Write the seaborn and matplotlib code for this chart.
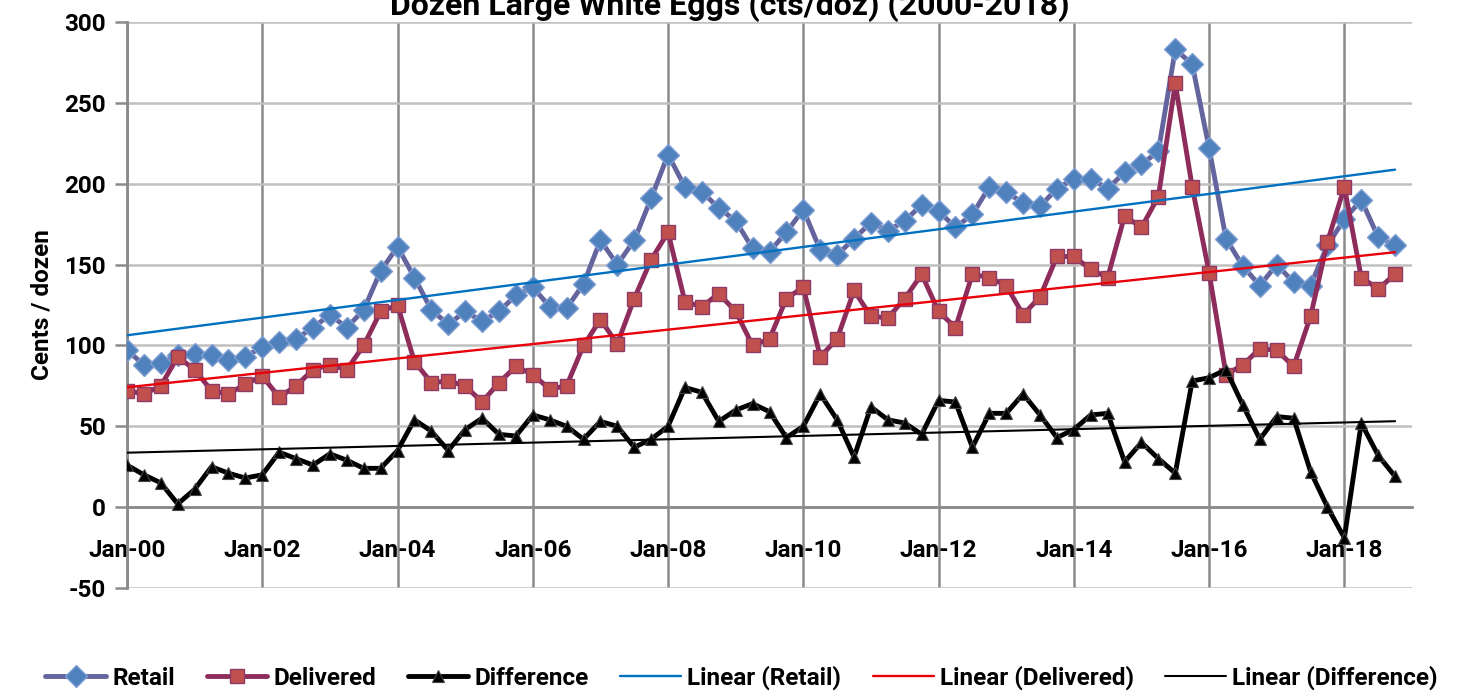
import numpy as np
import pandas as pd
import seaborn as sns
import matplotlib.pyplot as plt
import matplotlib.font_manager as fm

# Quarterly prices, Jan-2000 .. Oct-2018 (cents per dozen)
start_year = 2000
retail = [97, 88, 89, 94, 95, 94, 91, 93, 99, 102, 104, 111, 119, 111, 122, 146,
          161, 142, 122, 113, 121, 115, 121, 131, 136, 124, 123, 138, 165, 150, 165, 191,
          218, 198, 195, 185, 177, 160, 158, 170, 184, 159, 156, 166, 176, 171, 177, 187,
          183, 173, 181, 198, 195, 188, 186, 197, 203, 203, 197, 207, 212, 220, 283, 274,
          222, 166, 149, 137, 150, 139, 137, 162, 178, 190, 167, 162]
delivered = [72, 70, 75, 93, 85, 72, 70, 76, 81, 68, 75, 85, 88, 85, 100, 121,
             125, 90, 77, 78, 75, 65, 77, 87, 82, 73, 75, 100, 116, 101, 129, 153,
             170, 127, 124, 132, 121, 100, 104, 129, 136, 93, 104, 134, 118, 117, 129, 144,
             121, 111, 144, 142, 137, 119, 130, 155, 155, 147, 142, 180, 173, 192, 262, 198,
             145, 82, 88, 98, 97, 87, 118, 164, 198, 142, 135, 144]
difference = [26, 20, 15, 2, 11, 25, 21, 18, 20, 34, 30, 26, 33, 29, 24, 24,
              35, 54, 47, 35, 48, 55, 45, 44, 57, 54, 50, 42, 53, 50, 37, 42,
              50, 74, 71, 53, 60, 64, 59, 43, 50, 70, 54, 31, 62, 54, 52, 45,
              66, 65, 37, 58, 58, 70, 57, 43, 48, 57, 58, 28, 40, 30, 21, 78,
              80, 85, 63, 42, 56, 55, 22, 0, -19, 52, 32, 19]
tick_years = list(range(2000, 2019, 2))

sns.set_theme(style="white")
plt.rcParams["text.color"] = "black"
plt.rcParams["axes.labelcolor"] = "black"
plt.rcParams["axes.unicode_minus"] = False


# Calibri Bold is not available: take the bold file of a close family directly
def bold_font(size):
    for fam in ["Roboto", "Lato", "Open Sans", "Noto Sans", "Liberation Sans"]:
        hits = [f for f in fm.fontManager.ttflist
                if f.name == fam and f.weight == 700 and f.style == "normal"]
        if hits:
            return fm.FontProperties(fname=hits[0].fname, size=size)
    return fm.FontProperties(family="DejaVu Sans", weight="bold", size=size)


fp = bold_font(17.5)
fp_title = bold_font(23)

years = start_year + np.arange(len(retail)) / 4

fig = plt.figure(figsize=(14.6, 6.96), dpi=100)
ax = fig.add_axes([127 / 1460, 1 - 588 / 696, (1412 - 127) / 1460, (588 - 22) / 696])

sns.lineplot(x=years, y=retail, ax=ax, color="#64649E", lw=3.5, marker="D", markersize=11,
             markerfacecolor="#4F81BD", markeredgecolor="#7F9FD3", markeredgewidth=1,
             label="Retail", zorder=3)
sns.lineplot(x=years, y=delivered, ax=ax, color="#8E2C5C", lw=3.5, marker="s", markersize=9.5,
             markerfacecolor="#C0504D", markeredgecolor="#8E3A66", markeredgewidth=1,
             label="Delivered", zorder=3)
sns.lineplot(x=years, y=difference, ax=ax, color="black", lw=3.5, marker="^", markersize=8.5,
             markerfacecolor="black", markeredgecolor="#444444", markeredgewidth=0.8,
             label="Difference", zorder=3)

sns.regplot(x=years, y=retail, ax=ax, scatter=False, ci=None, label="Linear (Retail)",
            line_kws=dict(color="#0070C0", lw=1.7, zorder=4))
sns.regplot(x=years, y=delivered, ax=ax, scatter=False, ci=None, label="Linear (Delivered)",
            line_kws=dict(color="#E8000B", lw=1.7, zorder=4))
sns.regplot(x=years, y=difference, ax=ax, scatter=False, ci=None, label="Linear (Difference)",
            line_kws=dict(color="black", lw=1.5, zorder=4))

ax.set_xlim(2000, 2019)
ax.set_ylim(-50, 300)
ax.set_yticks(range(-50, 301, 50))
ax.set_xticks(tick_years)
ax.set_xticklabels([f"Jan-{y % 100:02d}" for y in tick_years])
ax.set_xlabel("")
ax.set_ylabel("Cents / dozen", fontproperties=fp, labelpad=8)

# Excel-like grid
ax.grid(axis="y", color="#C0C0C0", lw=1.8)
ax.grid(axis="x", color="#8A8A8A", lw=1.8)
ax.set_axisbelow(True)
for s in ["top", "right"]:
    ax.spines[s].set_visible(False)
ax.spines["bottom"].set_position(("data", 0))
ax.spines["bottom"].set_color("#8A8A8A")
ax.spines["bottom"].set_linewidth(2)
ax.spines["left"].set_color("#8A8A8A")
ax.spines["left"].set_linewidth(2)
ax.tick_params(axis="y", length=9, width=1.8, color="#8A8A8A", labelcolor="black",
               direction="out", pad=6, left=True)
ax.tick_params(axis="x", length=0, pad=23, labelcolor="black")
for t in ax.get_xticklabels() + ax.get_yticklabels():
    t.set_fontproperties(fp)

handles, labels = ax.get_legend_handles_labels()
ax.get_legend().remove()
fig.legend(handles, labels, loc="center", bbox_to_anchor=(0.508, 1 - 678 / 696), ncol=6,
           frameon=False, prop=fp, handlelength=2.5, columnspacing=1.3, handletextpad=0.25)

fig.text(0.5, 1 - 15 / 696, "Dozen Large White Eggs (cts/doz) (2000-2018)", ha="center",
         va="baseline", fontproperties=fp_title)

plt.savefig("out.png", dpi=100)
